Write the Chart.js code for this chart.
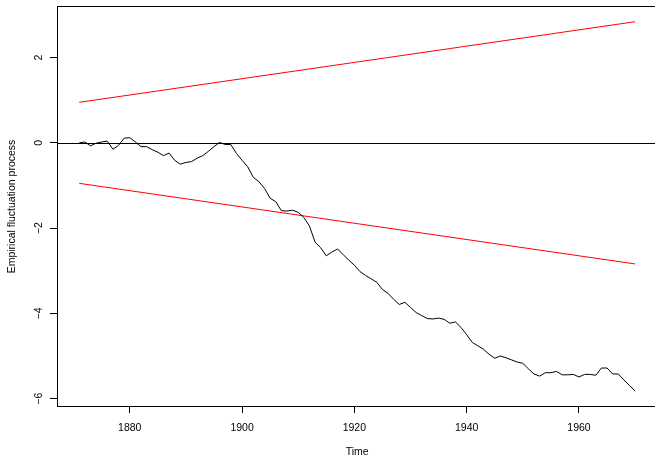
<!DOCTYPE html>
<html>
<head>
<meta charset="utf-8">
<script src="https://cdn.jsdelivr.net/npm/chart.js@4.4.1/dist/chart.umd.min.js"></script>
<style>
  html, body { margin: 0; padding: 0; background: #fff; }
  #wrap { width: 655px; height: 458px; position: relative; }
</style>
</head>
<body>
<div id="wrap"><canvas id="c" width="655" height="458"></canvas></div>
<script>
// Recursive CUSUM fluctuation process, one value per year 1871-1970
const years = Array.from({ length: 100 }, (_, i) => 1871 + i);
const fluctuation = [
  0.00, 0.02, -0.07, -0.01, 0.02, 0.04, -0.15, -0.06, 0.11, 0.12,
  0.02, -0.09, -0.09, -0.16, -0.22, -0.30, -0.24, -0.41, -0.50, -0.46,
  -0.44, -0.36, -0.30, -0.20, -0.09, 0.01, -0.04, -0.04, -0.25, -0.41,
  -0.56, -0.81, -0.91, -1.07, -1.30, -1.38, -1.59, -1.60, -1.58, -1.63,
  -1.75, -1.95, -2.33, -2.46, -2.65, -2.56, -2.49, -2.62, -2.75, -2.87,
  -3.02, -3.11, -3.19, -3.27, -3.44, -3.53, -3.67, -3.79, -3.74, -3.86,
  -3.98, -4.05, -4.12, -4.13, -4.11, -4.14, -4.23, -4.20, -4.33, -4.50,
  -4.68, -4.76, -4.84, -4.96, -5.05, -5.00, -5.04, -5.09, -5.14, -5.17,
  -5.30, -5.42, -5.47, -5.39, -5.39, -5.36, -5.44, -5.44, -5.43, -5.49,
  -5.43, -5.43, -5.45, -5.28, -5.28, -5.42, -5.42, -5.56, -5.69, -5.82
];

// Linear 5% boundaries, endpoints at the first and last year
const boundaryYears = [1871, 1970];
const upperBoundary = [0.95, 2.84];
const lowerBoundary = [-0.95, -2.84];

// Axis ticks and titles
const xTicks = [1880, 1900, 1920, 1940, 1960];
const yTicks = [-6, -4, -2, 0, 2];
const xTitle = 'Time';
const yTitle = 'Empirical fluctuation process';

const FONT = '"Liberation Sans", Arial, Helvetica, sans-serif';
const FONT_SIZE = 10.5;

const toPoints = (xs, ys) => xs.map((x, i) => ({ x: x, y: ys[i] }));

// Frame, zero reference line, rotated y labels and axis titles
const framePlugin = {
  id: 'frame',
  afterDatasetsDraw(chart) {
    const { ctx, chartArea: a, scales: { x, y } } = chart;
    ctx.save();
    ctx.strokeStyle = '#000';
    ctx.lineWidth = 1;

    const top = Math.round(a.top) - 0.5;
    ctx.beginPath();
    ctx.moveTo(a.left, top);
    ctx.lineTo(a.right, top);
    ctx.stroke();

    const y0 = Math.round(y.getPixelForValue(0)) + 0.5;
    ctx.beginPath();
    ctx.moveTo(a.left, y0);
    ctx.lineTo(a.right, y0);
    ctx.stroke();

    ctx.fillStyle = '#000';
    ctx.font = FONT_SIZE + 'px ' + FONT;
    ctx.textAlign = 'center';
    ctx.textBaseline = 'middle';
    yTicks.forEach(v => {
      const py = y.getPixelForValue(v);
      ctx.save();
      ctx.translate(39, py);
      ctx.rotate(-Math.PI / 2);
      ctx.fillText(v < 0 ? '\u2212' + Math.abs(v) : String(v), 0, 0);
      ctx.restore();
    });

    ctx.save();
    ctx.translate(12, (a.top + a.bottom) / 2);
    ctx.rotate(-Math.PI / 2);
    ctx.fillText(yTitle, 0, 0);
    ctx.restore();

    ctx.fillText(xTitle, (x.getPixelForValue(1867.04) + x.getPixelForValue(1973.96)) / 2, 452);
    ctx.restore();
  }
};

new Chart(document.getElementById('c'), {
  type: 'line',
  data: {
    datasets: [
      {
        data: toPoints(years, fluctuation),
        borderColor: '#000',
        borderWidth: 1,
        pointRadius: 0,
        tension: 0,
        fill: false
      },
      {
        data: toPoints(boundaryYears, upperBoundary),
        borderColor: '#ff0000',
        borderWidth: 1,
        pointRadius: 0,
        fill: false
      },
      {
        data: toPoints(boundaryYears, lowerBoundary),
        borderColor: '#ff0000',
        borderWidth: 1,
        pointRadius: 0,
        fill: false
      }
    ]
  },
  options: {
    responsive: false,
    animation: false,
    devicePixelRatio: 1,
    layout: { padding: { top: 7, right: 0, bottom: 0, left: 0 } },
    plugins: { legend: { display: false }, tooltip: { enabled: false } },
    scales: {
      x: {
        type: 'linear',
        min: 1867.04,
        max: 1973.54,
        afterFit: s => { s.height = 52; },
        afterBuildTicks: s => { s.ticks = xTicks.map(v => ({ value: v })); },
        grid: { drawOnChartArea: false, drawTicks: true, tickLength: 7, color: '#000', lineWidth: 1 },
        border: { display: true, color: '#000', width: 1 },
        ticks: {
          color: '#000',
          font: { family: FONT, size: FONT_SIZE },
          padding: 9,
          maxRotation: 0,
          autoSkip: false,
          callback: v => String(v)
        }
      },
      y: {
        type: 'linear',
        min: -6.171,
        max: 3.185,
        afterFit: s => { s.width = 57; },
        afterBuildTicks: s => { s.ticks = yTicks.map(v => ({ value: v })); },
        grid: { drawOnChartArea: false, drawTicks: true, tickLength: 7, color: '#000', lineWidth: 1 },
        border: { display: true, color: '#000', width: 1 },
        ticks: { display: false }
      }
    }
  },
  plugins: [framePlugin]
});
</script>
</body>
</html>
